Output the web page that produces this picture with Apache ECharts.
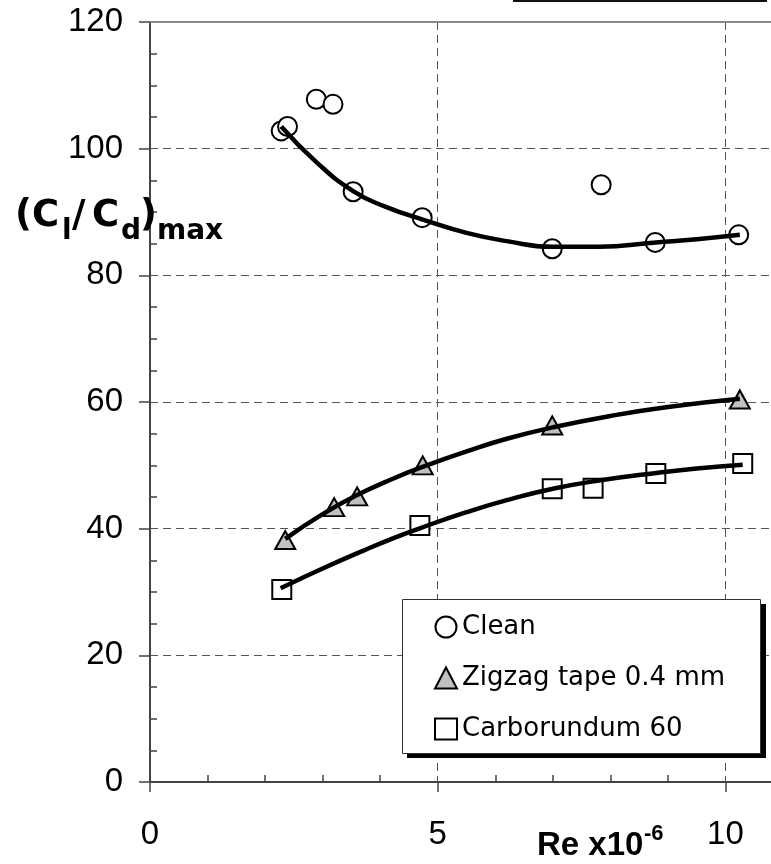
<!DOCTYPE html>
<html>
<head>
<meta charset="utf-8">
<script src="https://cdn.jsdelivr.net/npm/echarts@6/dist/echarts.min.js"></script>
<style>
html,body{margin:0;padding:0;background:#fff;}
#chart{width:771px;height:864px;}
</style>
</head>
<body>
<div id="chart"></div>
<script>
// ---- data ----
const cleanX = [2.28, 2.39, 2.89, 3.18, 3.53, 4.73, 6.99, 7.84, 8.78, 10.23];
const cleanY = [102.8, 103.5, 107.8, 107.0, 93.2, 89.1, 84.2, 94.3, 85.2, 86.4];
const zigzagX = [2.35, 3.20, 3.60, 4.74, 6.99, 10.25];
const zigzagY = [38.2, 43.4, 45.1, 50.0, 56.3, 60.4];
const carbX = [2.29, 4.69, 6.99, 7.70, 8.79, 10.30];
const carbY = [30.4, 40.5, 46.3, 46.4, 48.7, 50.3];

// trend curves
const cleanFitX = [2.28, 2.9, 3.53, 4.1, 4.74, 5.5, 6.2, 6.99, 7.8, 8.79, 9.5, 10.25];
const cleanFitY = [103.5, 97.8, 93.3, 90.8, 88.8, 86.7, 85.4, 84.5, 84.5, 85.2, 85.7, 86.4];
const zigzagFitX = [2.35, 3.0, 3.6, 4.2, 4.75, 5.5, 6.2, 7.0, 8.0, 9.0, 10.25];
const zigzagFitY = [38.4, 42.3, 45.3, 47.8, 49.8, 52.2, 54.2, 56.0, 57.8, 59.2, 60.5];
const carbFitX = [2.27, 3.0, 3.7, 4.2, 4.7, 5.5, 6.2, 7.0, 7.8, 8.8, 9.5, 10.3];
const carbFitY = [30.6, 33.7, 36.5, 38.4, 40.1, 42.6, 44.5, 46.3, 47.6, 48.8, 49.5, 50.1];

const seriesNames = ['Clean', 'Zigzag tape 0.4 mm', 'Carborundum 60'];
const xTickLabels = ['0', '5', '10'];
const yTickLabels = ['0', '20', '40', '60', '80', '100', '120'];

const zip = (xs, ys) => xs.map((x, i) => [x, ys[i]]);

const chart = echarts.init(document.getElementById('chart'), null, {renderer: 'canvas'});

const X_MIN = 0, X_MAX = 11, Y_MIN = 0, Y_MAX = 120;
const gridDash = {color: '#555', width: 1, type: [8, 5]};
const axisFont = {fontFamily: 'Liberation Sans', fontSize: 33, color: '#000'};
const fitLine = {color: '#000', width: 4.5};

const option = {
  animation: false,
  backgroundColor: '#fff',
  grid: {left: 150, top: 22, width: 633, height: 760, containLabel: false, outerBoundsMode: 'none'},
  xAxis: [
    {
      type: 'value', min: X_MIN, max: X_MAX, interval: 5, position: 'bottom',
      axisLine: {show: true, lineStyle: {color: '#444', width: 2}},
      axisTick: {show: true, inside: false, length: 10, lineStyle: {color: '#444', width: 1.5}},
      axisLabel: {show: true, margin: 36, showMaxLabel: false, ...axisFont,
        formatter: v => { const i = Math.round(v / 5); return (Math.abs(v - i * 5) < 1e-6 && xTickLabels[i] !== undefined) ? xTickLabels[i] : ''; }},
      splitLine: {show: true, lineStyle: gridDash},
      minorTick: {show: false}
    },
    {
      type: 'value', min: X_MIN, max: X_MAX, interval: 5, position: 'bottom',
      axisLine: {show: false},
      axisTick: {show: false, inside: true},
      axisLabel: {show: false},
      splitLine: {show: false},
      minorTick: {show: true, splitNumber: 5, length: 7, lineStyle: {color: '#444', width: 1.5}}
    },
    {
      type: 'value', min: X_MIN, max: X_MAX, interval: 5, position: 'top',
      axisLine: {show: true, lineStyle: {color: '#888', width: 2}},
      axisTick: {show: false}, axisLabel: {show: false}, splitLine: {show: false}
    }
  ],
  yAxis: [
    {
      type: 'value', min: Y_MIN, max: Y_MAX, interval: 20, position: 'left',
      axisLine: {show: true, lineStyle: {color: '#444', width: 2}},
      axisTick: {show: true, inside: false, length: 11, lineStyle: {color: '#444', width: 1.5}},
      axisLabel: {show: true, margin: 27, ...axisFont,
        formatter: v => yTickLabels[Math.round(v / 20)] || ''},
      splitLine: {show: true, lineStyle: gridDash}
    },
    {
      type: 'value', min: Y_MIN, max: Y_MAX, interval: 20, position: 'left',
      axisLine: {show: false},
      axisTick: {show: false, inside: true},
      axisLabel: {show: false},
      splitLine: {show: false},
      minorTick: {show: true, splitNumber: 4, length: 7, lineStyle: {color: '#444', width: 1.5}}
    }
  ],
  legend: {
    show: true, orient: 'vertical', left: 434, top: 614, padding: 0,
    itemWidth: 22, itemHeight: 21, itemGap: 25,
    data: seriesNames, z: 6,
    textStyle: {fontFamily: 'DejaVu Sans', fontSize: 26, color: '#000', lineHeight: 26}
  },
  series: [
    {name: seriesNames[0], type: 'scatter', data: zip(cleanX, cleanY), symbol: 'circle', symbolSize: 19,
     itemStyle: {color: '#fff', borderColor: '#000', borderWidth: 2, opacity: 1}, z: 2},
    {name: seriesNames[1], type: 'scatter', data: zip(zigzagX, zigzagY), symbol: 'triangle', symbolSize: [20, 18],
     itemStyle: {color: '#c0c0c0', borderColor: '#000', borderWidth: 2, opacity: 1}, z: 2},
    {name: seriesNames[2], type: 'scatter', data: zip(carbX, carbY), symbol: 'rect', symbolSize: 19,
     itemStyle: {color: '#fff', borderColor: '#000', borderWidth: 2, opacity: 1}, z: 2},
    {name: 'fit-clean', type: 'line', data: zip(cleanFitX, cleanFitY), smooth: 0.5, showSymbol: false, symbol: 'none',
     lineStyle: fitLine, z: 3, silent: true},
    {name: 'fit-zigzag', type: 'line', data: zip(zigzagFitX, zigzagFitY), smooth: 0.5, showSymbol: false, symbol: 'none',
     lineStyle: fitLine, z: 3, silent: true},
    {name: 'fit-carb', type: 'line', data: zip(carbFitX, carbFitY), smooth: 0.5, showSymbol: false, symbol: 'none',
     lineStyle: fitLine, z: 3, silent: true}
  ],
  graphic: [
    // legend frame with hard shadow
    {type: 'rect', z: 4, shape: {x: 407, y: 604, width: 359, height: 154}, style: {fill: '#000'}},
    {type: 'rect', z: 4, shape: {x: 402.5, y: 599.5, width: 358, height: 154}, style: {fill: '#fff', stroke: '#333', lineWidth: 1}},
    // clipped frame edge at very top
    {type: 'line', z: 4, shape: {x1: 513, y1: 1, x2: 767, y2: 1}, style: {stroke: '#111', lineWidth: 2}},
    // y-axis title (C_l/C_d)_max
    {type: 'text', z: 5, style: {text: '(', x: 15, y: 216, font: 'bold 37px "DejaVu Sans"', fill: '#000', verticalAlign: 'middle'}},
    {type: 'text', z: 5, style: {text: 'C', x: 32, y: 216, font: 'bold 37px "DejaVu Sans"', fill: '#000', verticalAlign: 'middle'}},
    {type: 'text', z: 5, style: {text: 'l', x: 62, y: 232, font: 'bold 28px "DejaVu Sans"', fill: '#000', verticalAlign: 'middle'}},
    {type: 'text', z: 5, style: {text: '/', x: 72, y: 216, font: 'bold 37px "DejaVu Sans"', fill: '#000', verticalAlign: 'middle'}},
    {type: 'text', z: 5, style: {text: 'C', x: 92, y: 216, font: 'bold 37px "DejaVu Sans"', fill: '#000', verticalAlign: 'middle'}},
    {type: 'text', z: 5, style: {text: 'd', x: 121, y: 232, font: 'bold 28px "DejaVu Sans"', fill: '#000', verticalAlign: 'middle'}},
    {type: 'text', z: 5, style: {text: ')', x: 140, y: 216, font: 'bold 37px "DejaVu Sans"', fill: '#000', verticalAlign: 'middle'}},
    {type: 'text', z: 5, style: {text: 'max', x: 157, y: 232, font: 'bold 28px "DejaVu Sans"', fill: '#000', verticalAlign: 'middle'}},
    // x-axis title Re x10^-6
    {type: 'text', z: 5, style: {text: 'Re x10', x: 537, y: 846, font: 'bold 33px "Liberation Sans"', fill: '#000', verticalAlign: 'middle'}},
    {type: 'text', z: 5, style: {text: '-6', x: 644, y: 834, font: 'bold 22px "Liberation Sans"', fill: '#000', verticalAlign: 'middle'}}
  ]
};
chart.setOption(option);
</script>
</body>
</html>
